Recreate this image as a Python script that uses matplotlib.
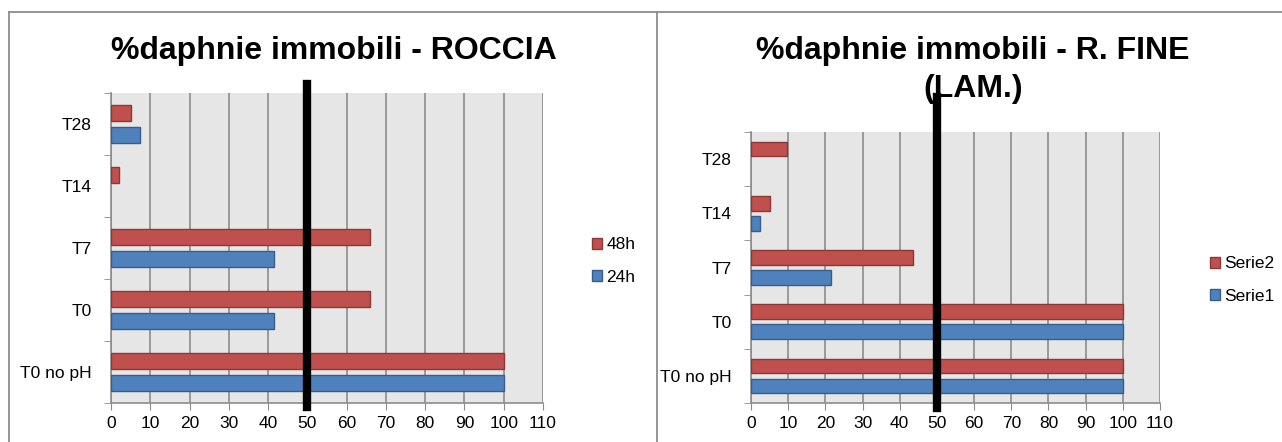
import numpy as np
import matplotlib
matplotlib.use('Agg')
import matplotlib.pyplot as plt
from matplotlib.lines import Line2D
from matplotlib.patches import Patch
import matplotlib.transforms as mtransforms

#######################################################
# Data
#######################################################

categories = ['T0 no pH', 'T0', 'T7', 'T14', 'T28']

roccia_24h = [100, 41.6, 41.6, 0, 7.5]
roccia_48h = [100, 66, 66, 2, 5]

fine_serie1 = [100, 100, 21.5, 2.3, 0]
fine_serie2 = [100, 100, 43.5, 5.1, 9.6]

x_ticks = list(range(0, 111, 10))
threshold = 50

#######################################################
# Style
#######################################################

plt.rcParams['font.family'] = ['Liberation Sans', 'DejaVu Sans']

W, H = 1282, 442
red, red_edge = '#C0504D', '#8C3836'
blue, blue_edge = '#4F81BD', '#385D8A'
grid_col = '#8C8C8C'
bg_col = '#E6E6E6'

fig = plt.figure(figsize=(W / 100, H / 100), dpi=100)
fig.patch.set_facecolor('white')


def px_axes(x0, x1, top, bottom):
    return fig.add_axes([x0 / W, 1 - bottom / H, (x1 - x0) / W, (bottom - top) / H])


def draw_chart(ax, lower, upper, line_ymin, line_ymax, bar_h, offset):
    y = np.arange(len(categories))
    ax.set_facecolor(bg_col)
    # no outline for empty (zero) bars
    lw_up = [1.0 if v > 0 else 0 for v in upper]
    lw_lo = [1.0 if v > 0 else 0 for v in lower]
    ax.barh(y + offset, upper, height=bar_h, color=red, edgecolor=red_edge,
            linewidth=lw_up, zorder=3)
    ax.barh(y - offset, lower, height=bar_h, color=blue, edgecolor=blue_edge,
            linewidth=lw_lo, zorder=3)
    ax.set_xlim(0, 110)
    ax.set_ylim(-0.5, len(categories) - 0.5)
    ax.set_xticks(x_ticks)
    ax.set_xticklabels([str(t) for t in x_ticks], fontsize=12.5)
    ax.set_yticks(y)
    ax.set_yticklabels(categories, fontsize=12.5)
    ax.set_yticks(np.arange(-0.5, len(categories)), minor=True)
    ax.tick_params(axis='y', which='major', length=0, pad=14)
    ax.tick_params(axis='y', which='minor', length=5, color=grid_col, direction='out')
    ax.tick_params(axis='x', length=5, color=grid_col, direction='out', pad=4)
    ax.xaxis.grid(True, color=grid_col, linewidth=1.2, zorder=1)
    ax.set_axisbelow(True)
    for side in ['top', 'right']:
        ax.spines[side].set_visible(False)
    for side in ['left', 'bottom']:
        ax.spines[side].set_color(grid_col)
        ax.spines[side].set_linewidth(1.2)
    # threshold line at 50 %
    trans = mtransforms.blended_transform_factory(ax.transData, ax.transAxes)
    ax.add_line(Line2D([threshold, threshold], [line_ymin, line_ymax], transform=trans,
                       color='black', linewidth=6, clip_on=False, zorder=5))


#######################################################
# Left chart - ROCCIA
#######################################################

ax1 = px_axes(111, 543, 93, 403)
draw_chart(ax1, roccia_24h, roccia_48h, -0.012, 1.03, 0.26, 0.18)
fig.text(334 / W, 1 - 51 / H, '%daphnie immobili - ROCCIA', ha='center', va='center',
         fontsize=23, fontweight='bold')
fig.legend(handles=[Patch(facecolor=red, edgecolor=red_edge, label='48h'),
                    Patch(facecolor=blue, edgecolor=blue_edge, label='24h')],
           loc='center left', bbox_to_anchor=(583 / W, 1 - 261 / H), frameon=False,
           fontsize=12.5, handlelength=0.6, handleheight=0.6, handletextpad=0.25,
           labelspacing=1.0, borderpad=0)

#######################################################
# Right chart - R. FINE (LAM.)
#######################################################

ax2 = px_axes(751, 1160, 132, 403)
draw_chart(ax2, fine_serie1, fine_serie2, -0.018, 1.13, 0.27, 0.185)
fig.text(973 / W, 1 - 51 / H, '%daphnie immobili - R. FINE', ha='center', va='center',
         fontsize=23, fontweight='bold')
fig.text(973 / W, 1 - 89 / H, '(LAM.)', ha='center', va='center',
         fontsize=23, fontweight='bold')
fig.legend(handles=[Patch(facecolor=red, edgecolor=red_edge, label='Serie2'),
                    Patch(facecolor=blue, edgecolor=blue_edge, label='Serie1')],
           loc='center left', bbox_to_anchor=(1201 / W, 1 - 280 / H), frameon=False,
           fontsize=12.5, handlelength=0.6, handleheight=0.6, handletextpad=0.25,
           labelspacing=1.0, borderpad=0)

#######################################################
# Frame lines around the charts
#######################################################

frame = dict(color='#8C8C8C', linewidth=1.3, transform=fig.transFigure)
fig.add_artist(Line2D([9 / W, 1], [1 - 12 / H, 1 - 12 / H], **frame))
fig.add_artist(Line2D([9 / W, 9 / W], [0, 1 - 12 / H], **frame))
fig.add_artist(Line2D([657 / W, 657 / W], [0, 1 - 12 / H], **frame))

fig.savefig('out.png', dpi=100)
